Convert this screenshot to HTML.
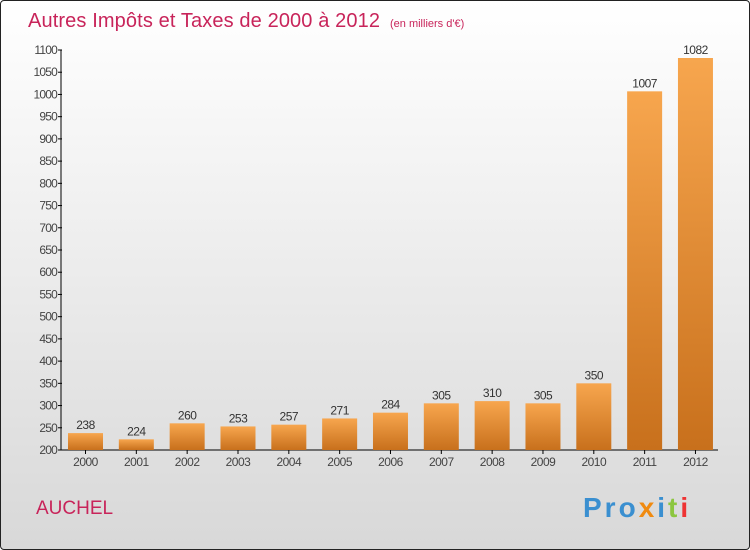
<!DOCTYPE html>
<html><head><meta charset="utf-8"><style>
html,body{margin:0;padding:0}
body{width:750px;height:550px;overflow:hidden;font-family:"Liberation Sans",sans-serif}
#wrap{position:absolute;left:0;top:0;width:748px;height:548px;border:1px solid #222;border-radius:4px;background:linear-gradient(#fff,#d8d8d8);}
</style></head><body>
<div id="wrap">
<svg id="chart" width="750" height="550" style="position:absolute;left:-1px;top:-1px">
<defs><linearGradient id="bg" x1="0" y1="0" x2="0" y2="1"><stop offset="0" stop-color="#f7a64e"/><stop offset="1" stop-color="#c8701c"/></linearGradient></defs>
<text x="28" y="27" font-size="20" fill="#c8245a" textLength="352">Autres Impôts et Taxes de 2000 à 2012</text>
<text x="390" y="27" font-size="11" fill="#c8245a">(en milliers d'€)</text>
<text x="36" y="514" font-size="19" fill="#c8245a">AUCHEL</text>
<text x="583" y="517" font-size="28" font-weight="bold" letter-spacing="3"><tspan fill="#3a8fd0">Pro</tspan><tspan fill="#f08a10">x</tspan><tspan fill="#3a8fd0">i</tspan><tspan fill="#8cc63f">t</tspan><tspan fill="#e33">i</tspan></text>
<g id="axes"></g><g id="bars"></g>
</svg></div>
<script>
const categories=["2000","2001","2002","2003","2004","2005","2006","2007","2008","2009","2010","2011","2012"];
const values=[238,224,260,253,257,271,284,305,310,305,350,1007,1082];
const yTicks=[200,250,300,350,400,450,500,550,600,650,700,750,800,850,900,950,1000,1050,1100];
const NS="http://www.w3.org/2000/svg";
const y0=450,y1=50,vmin=200,vmax=1100;
function yScale(v){return y0-(v-vmin)/(vmax-vmin)*(y0-y1);}
function xScale(i){return 85.5+i*50.83;}
function mk(t,a,p){const e=document.createElementNS(NS,t);for(const k in a)e.setAttribute(k,a[k]);p.appendChild(e);return e;}
const ax=document.getElementById('axes'),bg=document.getElementById('bars');
const yl=mk('line',{x1:61,y1:y1,x2:61,y2:y0,stroke:'#000','stroke-width':1},ax);


const xl=mk('line',{x1:61,y1:y0,x2:718,y2:y0,stroke:'#000','stroke-width':1},ax);


yTicks.forEach(v=>{const y=yScale(v);
mk('line',{x1:58,x2:62,y1:y,y2:y,stroke:'#000'},ax);
const t=mk('text',{x:57,y:y+4,'font-size':12,fill:'#444','text-anchor':'end','letter-spacing':'-0.8'},ax);t.textContent=v;

});
categories.forEach((c,i)=>{const x=xScale(i),y=yScale(values[i]);
const r=mk('rect',{x:x-17.5,y:y,width:35,height:y0-y,fill:'url(#bg)'},bg);


const l=mk('text',{x:x,y:y-4,'font-size':12,fill:'#333','text-anchor':'middle','letter-spacing':'-0.5'},bg);l.textContent=values[i];


mk('line',{x1:x,x2:x,y1:y0,y2:y0+4,stroke:'#000'},ax);
const t=mk('text',{x:x,y:466,'font-size':12,fill:'#444','text-anchor':'middle','letter-spacing':'-0.5'},ax);t.textContent=c;

});
</script>
</body></html>
